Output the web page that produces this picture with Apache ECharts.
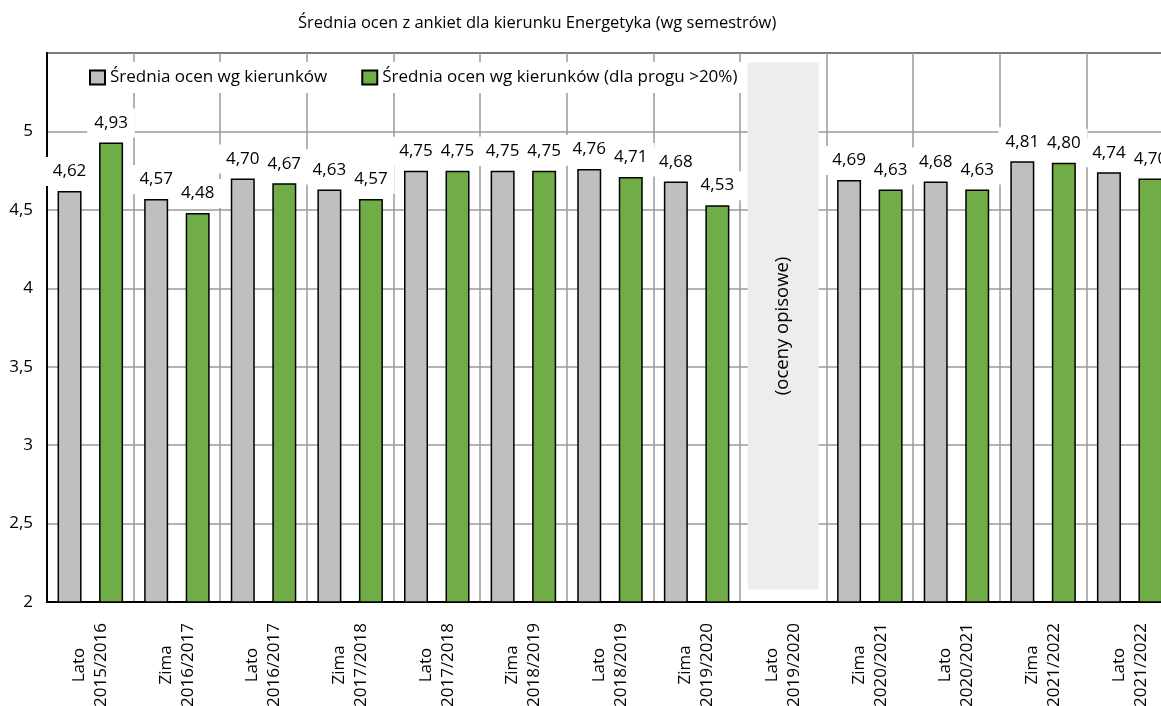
<!DOCTYPE html>
<html>
<head>
<meta charset="utf-8">
<script src="https://cdn.jsdelivr.net/npm/echarts@6/dist/echarts.min.js"></script>
<style>
  html, body { margin: 0; padding: 0; background: #fff; }
  #chart { width: 1161px; height: 706px; }
</style>
</head>
<body>
<div id="chart"></div>
<script>
const semesters = [
  "Lato\n2015/2016", "Zima\n2016/2017", "Lato\n2016/2017", "Zima\n2017/2018",
  "Lato\n2017/2018", "Zima\n2018/2019", "Lato\n2018/2019", "Zima\n2019/2020",
  "Lato\n2019/2020", "Zima\n2020/2021", "Lato\n2020/2021", "Zima\n2021/2022",
  "Lato\n2021/2022"
];
const avgAll = [4.62, 4.57, 4.70, 4.63, 4.75, 4.75, 4.76, 4.68, null, 4.69, 4.68, 4.81, 4.74];
const avgThreshold = [4.93, 4.48, 4.67, 4.57, 4.75, 4.75, 4.71, 4.53, null, 4.63, 4.63, 4.80, 4.70];
// semester with descriptive grades only (shaded box)
const descBottom = [null, null, null, null, null, null, null, null, 2.08, null, null, null, null];
const descTop = [null, null, null, null, null, null, null, null, 5.44, null, null, null, null];

const FONT = "Open Sans";
const fmt = (v) => v.toFixed(2).replace(".", ",");

const chart = echarts.init(document.getElementById("chart"));

const barLabel = {
    show: true,
    position: "top",
    distance: 5,
    formatter: (p) => fmt(p.value),
    backgroundColor: "#fff",
    padding: [6, 7],
    color: "#000",
    fontSize: 17,
    fontFamily: FONT,
};

const option = {
    animation: false,
    textStyle: { fontFamily: FONT },
    title: {
        text: "Średnia ocen z ankiet dla kierunku Energetyka (wg semestrów)",
        left: 293,
        top: 10,
        textStyle: { fontSize: 16.5, fontWeight: "normal", color: "#000", fontFamily: FONT },
    },
    legend: {
        left: 84,
        top: 62,
        padding: [7, 5],
        backgroundColor: "#fff",
        icon: "rect",
        itemWidth: 15,
        itemHeight: 14,
        itemGap: 34,
        textStyle: { fontSize: 17, color: "#000", fontFamily: FONT },
        data: ["Średnia ocen wg kierunków", "Średnia ocen wg kierunków (dla progu >20%)"],
    },
    grid: {
        left: 47,
        top: 53,
        width: 1126,
        height: 549,
        outerBoundsMode: "none",
        containLabel: false,
        show: true,
        borderColor: "#222",
        borderWidth: 2,
    },
    xAxis: [
        {
            type: "category",
            data: semesters,
            axisTick: { show: false },
            axisLine: { lineStyle: { color: "#000", width: 2 } },
            splitLine: { show: true, lineStyle: { color: "#9a9a9a", width: 1.5 } },
            axisLabel: {
                rotate: 90,
                align: "center",
                margin: 63,
                lineHeight: 22,
                fontSize: 17,
                color: "#000",
                fontFamily: FONT,
            },
        },
        { type: "category", data: semesters, show: false },
    ],
    yAxis: {
        type: "value",
        min: 2,
        max: 5.5,
        interval: 0.5,
        axisLine: { show: true, lineStyle: { color: "#000", width: 2 } },
        axisTick: { show: false },
        splitLine: { lineStyle: { color: "#9a9a9a", width: 1.5 } },
        axisLabel: {
            margin: 14,
            fontSize: 17,
            color: "#000",
            fontFamily: FONT,
            formatter: (v) => (v > 5.01 ? "" : String(v).replace(".", ",")),
        },
    },
    series: [
        {
            name: "Średnia ocen wg kierunków",
            type: "bar",
            data: avgAll,
            barWidth: 24,
            barGap: "73%",
            itemStyle: { color: "#BFBFBF", borderColor: "#000", borderWidth: 1.5 },
            label: barLabel,
        },
        {
            name: "Średnia ocen wg kierunków (dla progu >20%)",
            type: "bar",
            data: avgThreshold,
            barWidth: 24,
            itemStyle: { color: "#70AD47", borderColor: "#000", borderWidth: 1.5 },
            label: barLabel,
        },
        {
            name: "descBase",
            type: "bar",
            xAxisIndex: 1,
            stack: "desc",
            barWidth: 71,
            data: descBottom,
            itemStyle: { color: "rgba(0,0,0,0)" },
            silent: true,
        },
        {
            name: "descBox",
            type: "bar",
            xAxisIndex: 1,
            stack: "desc",
            barWidth: 71,
            data: descTop.map((t, i) => (t == null ? null : +(t - descBottom[i]).toFixed(3))),
            itemStyle: { color: "#EDEDED" },
            label: {
                show: true,
                position: "inside",
                rotate: 90,
                formatter: "(oceny opisowe)",
                color: "#000",
                fontSize: 18.5,
                fontFamily: FONT,
            },
            silent: true,
        },
    ],
};

chart.setOption(option);
window.addEventListener("resize", () => chart.resize());
</script>
</body>
</html>
